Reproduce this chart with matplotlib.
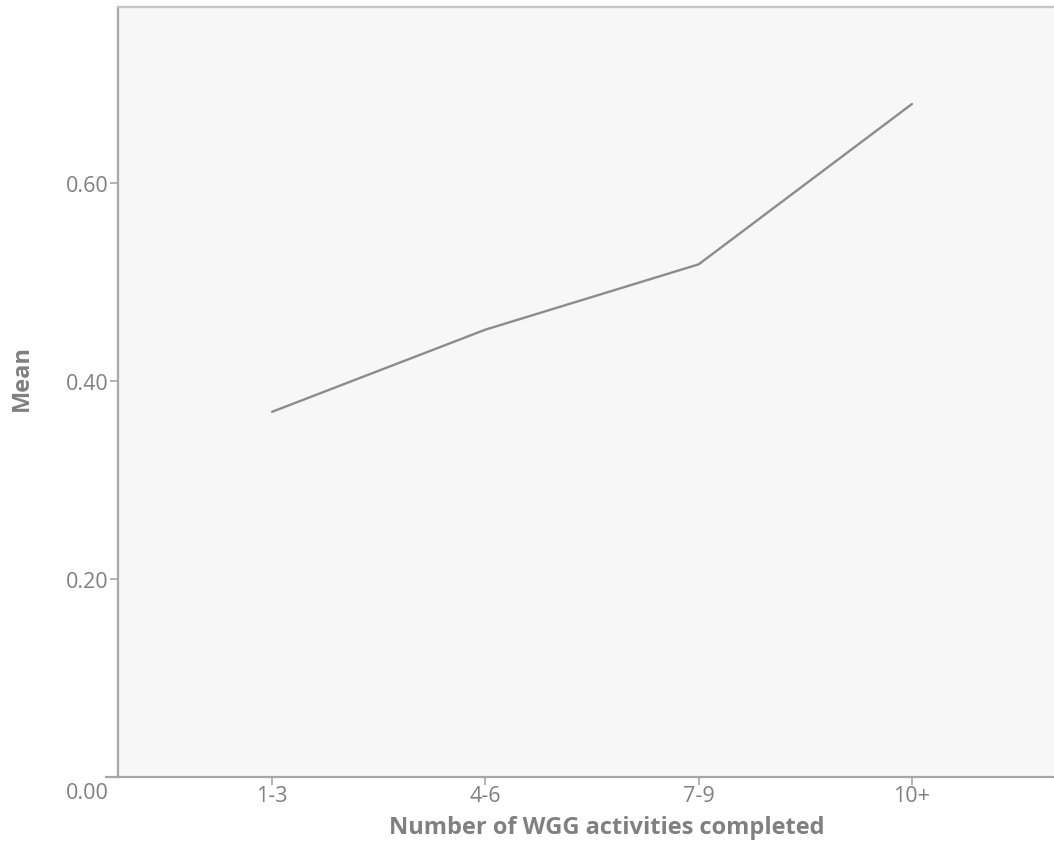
import matplotlib
matplotlib.use("Agg")
import matplotlib.pyplot as plt

# data
groups = ["1-3", "4-6", "7-9", "10+"]
means = [0.369, 0.452, 0.518, 0.680]
yticks = [0.20, 0.40, 0.60]

plt.rcParams['font.family'] = ['Open Sans', 'DejaVu Sans']
txt = "#808080"
spine = "#a6a6a6"

fig = plt.figure(figsize=(10.54, 8.45), dpi=100)
ax = fig.add_axes([0.112, 0.0793, 0.888, 0.9112])
ax.set_facecolor("#f7f7f7")

x = list(range(len(groups)))
ax.plot(x, means, color="#8c8c8c", lw=1.7, solid_capstyle="round")

ax.set_xlim(-0.722, 3.666)
ax.set_ylim(0, 0.778)
ax.set_xticks(x)
ax.set_xticklabels(groups)
ax.set_yticks(yticks)
ax.set_yticklabels(["%.2f" % v for v in yticks])

ax.tick_params(axis="both", colors=spine, labelcolor=txt, labelsize=15.5,
               length=6, width=1.2)
ax.tick_params(axis="x", pad=0)
ax.tick_params(axis="y", pad=1)

for s in ["left", "bottom", "top"]:
    ax.spines[s].set_color(spine)
    ax.spines[s].set_linewidth(1.6)
ax.spines["top"].set_color("#c4c4c4")
ax.spines["right"].set_visible(False)
# bottom axis sticks out a little past the left one
ax.plot([-0.013, 0], [0, 0], transform=ax.transAxes, color=spine, lw=1.6,
        clip_on=False)

ax.text(-0.01, -0.02, "0.00", transform=ax.transAxes, ha="right", va="center",
        color=txt, fontsize=15.5)

ax.set_xlabel("Number of WGG activities completed", color=txt, fontsize=17,
              fontweight="bold")
ax.xaxis.set_label_coords(0.522, -0.050)
ax.set_ylabel("Mean", color=txt, fontsize=17, fontweight="bold")
ax.yaxis.set_label_coords(-0.090, 0.52)

fig.savefig("out.png", dpi=100)
